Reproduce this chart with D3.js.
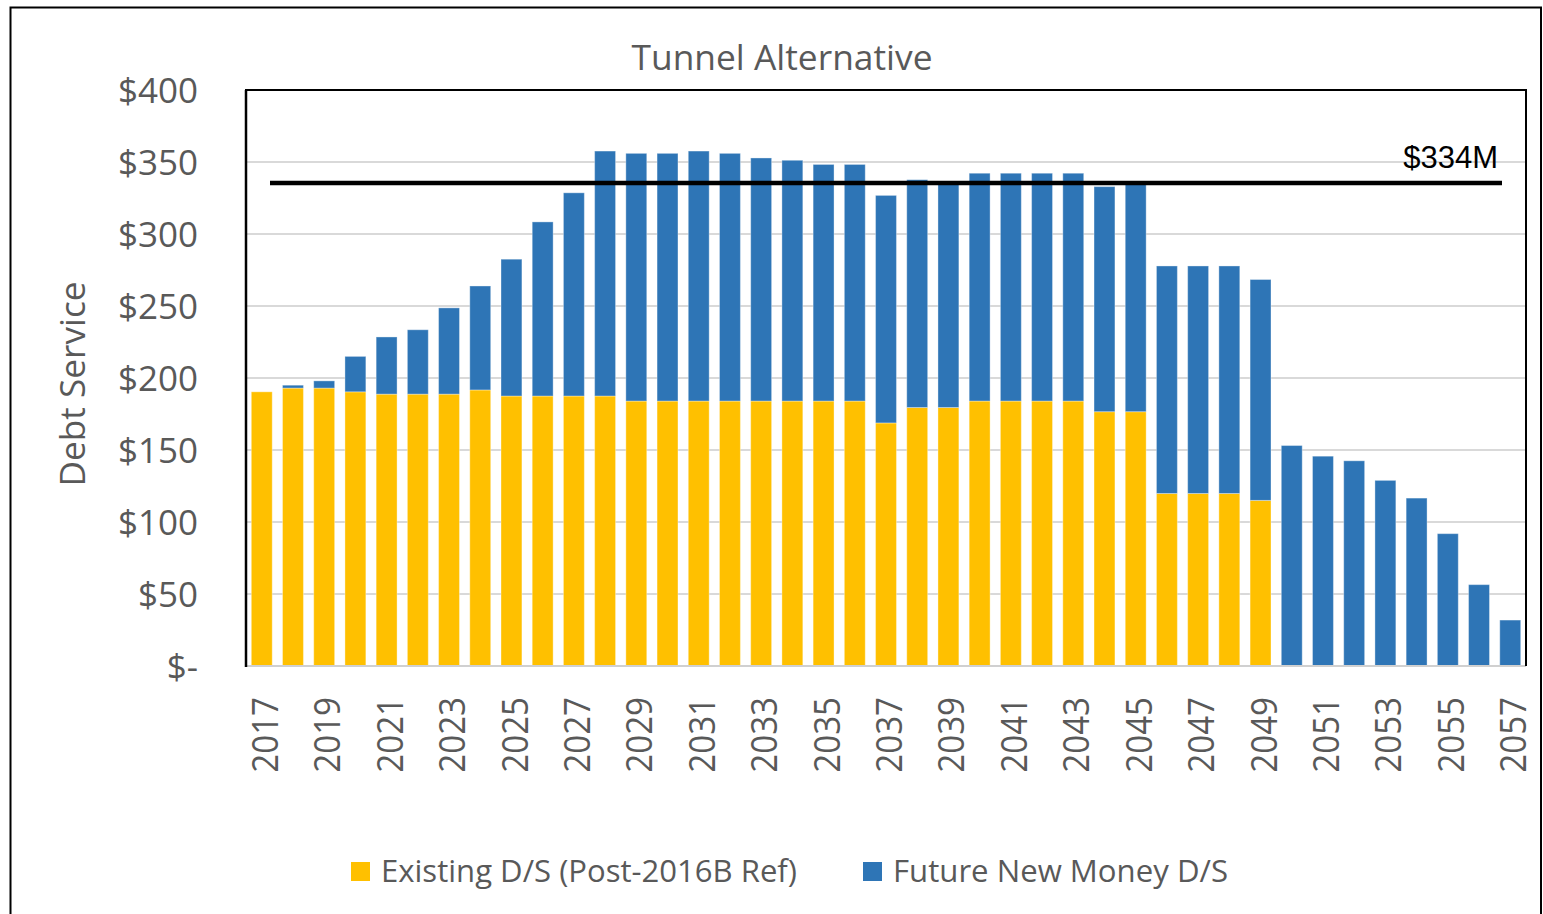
<!DOCTYPE html>
<html><head><meta charset="utf-8">
<script src="https://cdn.jsdelivr.net/npm/d3@7"></script>
<style>
html,body{margin:0;padding:0;background:#fff;}
svg{display:block;}
text{font-family:"Open Sans",sans-serif;}
</style></head>
<body>
<svg id="chart" width="1543" height="914"></svg>
<script>
const years = d3.range(2017, 2058);
const existingDS = [190.4,193,193,190.4,188.8,188.8,188.8,191.7,187.5,187.5,187.5,187.5,184,184,184,184,184,184,184,184,168.8,179.5,179.5,184,184,184,184,176.6,176.6,119.8,119.8,119.8,115,0,0,0,0,0,0,0,0];
const futureDS = [0,2,5,24.6,39.7,44.7,59.9,72.2,95,120.9,141.1,170.1,172,172,173.6,172,168.8,167.2,164.3,164.3,158,158.2,156,158.2,158.2,158.2,158.2,156.3,158.9,158,158,158,153.4,153.1,145.7,142.5,128.9,116.6,91.9,56.5,31.9];
const seriesNames = ["Existing D/S (Post-2016B Ref)", "Future New Money D/S"];
const seriesColors = ["#FFC000", "#2E75B6"];
const yTicks = [0,50,100,150,200,250,300,350,400];
const xTickYears = years.filter(y => (y - 2017) % 2 === 0);
const threshold = 334;
const thresholdLabel = "$334M";
const title = "Tunnel Alternative";
const yTitle = "Debt Service";

const svg = d3.select("#chart");
const L = 246, R = 1526, T = 90, B = 666;

// outer border
svg.append("path").attr("d", `M10.5,914 V7.5 H1541 V914`).attr("fill","none").attr("stroke","#000").attr("stroke-width",2);

const x = d3.scaleBand().domain(years).range([L, R]).paddingInner(0.33).paddingOuter(0.17);
const y = d3.scaleLinear().domain([0, 400]).range([B, T]);

// gridlines
svg.append("g").selectAll("line").data(yTicks.filter(t => t>0 && t<400)).join("line")
  .attr("x1", L).attr("x2", R).attr("y1", d => y(d)).attr("y2", d => y(d))
  .attr("stroke", "#d9d9d9").attr("stroke-width", 2);

// stacked bars
const table = years.map((yr,i) => ({year: yr, existing: existingDS[i], future: futureDS[i]}));
const stack = d3.stack().keys(["existing","future"])(table);
svg.append("g").selectAll("g").data(stack).join("g")
  .attr("fill", (d,i) => seriesColors[i])
  .selectAll("rect").data(d => d).join("rect")
  .attr("x", d => x(d.data.year)).attr("width", x.bandwidth())
  .attr("y", d => y(d[1])).attr("height", d => Math.max(0, y(d[0]) - y(d[1])))
  .attr("stroke", "rgba(255,255,255,0.35)").attr("stroke-width", 1);

// plot border
svg.append("line").attr("x1", L).attr("x2", R).attr("y1", B).attr("y2", B).attr("stroke","#d0d0d0").attr("stroke-width",2);
svg.append("path").attr("d", `M${L},${B} V${T} H${R} V${B}`).attr("fill","none").attr("stroke","#000").attr("stroke-width",2);
svg.append("line").attr("x1", L).attr("x2", L).attr("y1", T).attr("y2", B+1).attr("stroke","#000").attr("stroke-width",2.5);

// threshold line
svg.append("line").attr("x1", 270).attr("x2", 1502).attr("y1", y(threshold)-2).attr("y2", y(threshold)-2)
  .attr("stroke","#000").attr("stroke-width",4.5);
svg.append("text").attr("x", 1498).attr("y", 168).attr("text-anchor","end")
  .style("font-family","'Liberation Sans',Arial,sans-serif").style("font-size","31px").attr("fill","#000")
  .text(thresholdLabel);

// y axis
const yAxis = d3.axisLeft(y).tickValues(yTicks).tickSize(0).tickPadding(48)
  .tickFormat(d => d === 0 ? "$-" : "$" + d);
const gy = svg.append("g").attr("transform", `translate(${L},0)`).call(yAxis);
gy.select(".domain").remove();
gy.selectAll("text").attr("fill","#595959").style("font-size","35px").style("font-family","'Open Sans',sans-serif").attr("dy","0.36em");

// x axis
const xAxis = d3.axisBottom(x).tickValues(xTickYears).tickSize(0);
const gx = svg.append("g").attr("transform", `translate(0,${B})`).call(xAxis);
gx.select(".domain").remove();
gx.selectAll("text").attr("fill","#595959").style("font-size","36px").style("font-family","'Open Sans',sans-serif")
  .attr("text-anchor","end").attr("dy",null).attr("y",0)
  .attr("transform", "translate(2,31) rotate(-90) scale(0.92,1)")
  .attr("dominant-baseline","central");

// title
svg.append("text").attr("x", 782).attr("y", 70).attr("text-anchor","middle")
  .attr("fill","#595959").style("font-size","35px").attr("textLength",301).attr("lengthAdjust","spacingAndGlyphs")
  .text(title);

// y title
svg.append("text").attr("transform","translate(85,384) rotate(-90)").attr("text-anchor","middle")
  .attr("fill","#595959").style("font-size","35px").attr("textLength",205).attr("lengthAdjust","spacingAndGlyphs")
  .text(yTitle);

// legend
const legendX = [351, 863], legendW = [416, 335];
const lg = svg.append("g").selectAll("g").data(seriesNames).join("g")
  .attr("transform", (d,i) => `translate(${legendX[i]},862)`);
lg.append("rect").attr("width",19).attr("height",19).attr("fill",(d,i)=>seriesColors[i]);
lg.append("text").attr("x",30).attr("y",20).attr("fill","#595959").style("font-size","31px")
  .attr("textLength",(d,i)=>legendW[i]).attr("lengthAdjust","spacingAndGlyphs").text(d=>d);
</script>
</body></html>
